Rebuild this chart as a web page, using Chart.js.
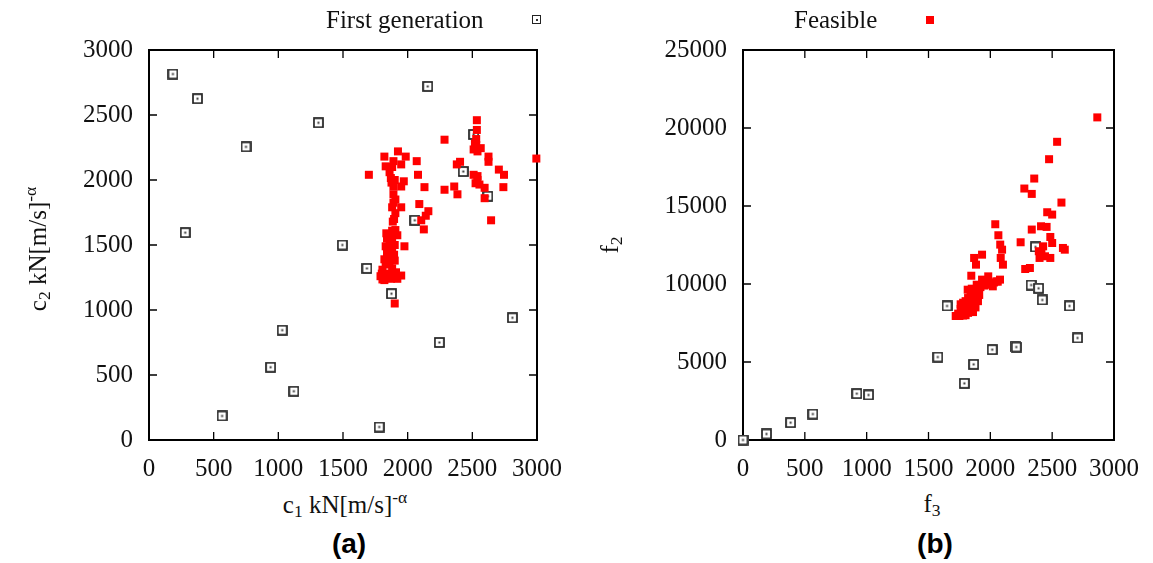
<!DOCTYPE html>
<html>
<head>
<meta charset="utf-8">
<script src="https://cdn.jsdelivr.net/npm/chart.js@4/dist/chart.umd.min.js"></script>
<style>
  html, body { margin: 0; padding: 0; background: #fff; }
  body { width: 1153px; height: 563px; position: relative; overflow: hidden; }
  .wrap { position: absolute; top: 0; }
  .txt { position: absolute; font-family: "Liberation Serif", "DejaVu Serif", serif; font-size: 25px; line-height: 30px; color: #111; white-space: nowrap; }
  .txt sub, .txt sup { font-size: 70%; line-height: 0; }
  .txt sub { vertical-align: -0.25em; }
  .txt sup { vertical-align: 0.55em; }
  .panel { position: absolute; font-family: "Liberation Sans", Arial, sans-serif; font-weight: bold; font-size: 28px; line-height: 30px; color: #000; text-align: center; width: 80px; }
  .mk-first { position: absolute; width: 7px; height: 7px; border: 1.6px solid #222; background: #fff; }
  .mk-first::after { content: ""; position: absolute; left: 2.5px; top: 2.5px; width: 2px; height: 2px; background: #333; }
  .mk-red { position: absolute; width: 8px; height: 8px; background: #ff0000; }
  .rot { transform: rotate(-90deg); transform-origin: 50% 50%; text-align: center; width: 220px; }
</style>
</head>
<body>
<div class="wrap" style="left:0;width:576px;height:480px;"><canvas id="chartA" width="576" height="480"></canvas></div>
<div class="wrap" style="left:576px;width:577px;height:480px;"><canvas id="chartB" width="577" height="480"></canvas></div>

<div class="txt" style="left:326px;top:5px;">First generation</div>
<div class="mk-first" style="left:532px;top:15px;"></div>
<div class="txt" style="left:794px;top:5px;">Feasible</div>
<div class="mk-red" style="left:926px;top:16px;"></div>

<div class="txt" style="left:235px;top:490px;width:220px;text-align:center;">c<sub>1</sub> kN[m/s]<sup>-α</sup></div>
<div class="txt rot" style="left:-72px;top:234px;">c<sub>2</sub> kN[m/s]<sup>-α</sup></div>
<div class="txt" style="left:832px;top:489px;width:200px;text-align:center;">f<sub>3</sub></div>
<div class="txt rot" style="left:500px;top:230px;">f<sub>2</sub></div>

<div class="panel" style="left:309px;top:529px;">(a)</div>
<div class="panel" style="left:895px;top:529px;">(b)</div>

<script>
// ---------- Data ----------
const axisTicksC = [0, 500, 1000, 1500, 2000, 2500, 3000];
const axisTicksF2 = [0, 5000, 10000, 15000, 20000, 25000];

// Panel (a): first generation
const firstGenC1 = [185, 375, 750, 280, 1310, 1495, 1685, 2155, 2430, 2620, 2510, 2055, 1875, 1030, 940, 1120, 565, 1780, 2245, 2810];
const firstGenC2 = [2815, 2625, 2255, 1595, 2440, 1500, 1320, 2720, 2065, 1875, 2350, 1690, 1125, 845, 560, 375, 185, 100, 750, 940];

// Panel (a): feasible
const feasibleC1 = [1700, 1820, 1830, 1890, 1925, 1985, 1950, 1870, 1875, 1890, 1970, 1950, 1905, 1890, 1950, 1905, 1885, 1905, 1835, 1870,
  1920, 1830, 1975, 1895, 1820, 1860, 1805, 1850, 1950, 1805, 1890, 1900, 1820, 1840, 1860, 1880, 1840, 1870, 1900, 1830,
  1880, 1910, 1830, 1870, 1920, 1790, 1800, 1850, 1900, 1880, 1895, 1880, 1890, 1880, 1900, 1860, 1880,
  2070, 2080, 2130, 2090, 2160, 2140, 2105, 2125, 2285, 2285, 2360, 2385, 2380, 2405, 2535, 2535, 2530, 2510, 2540, 2565,
  2510, 2540, 2525, 2555, 2595, 2595, 2625, 2625, 2705, 2745, 2740, 2645, 2995, 2530, 2520, 2540];
const feasibleC2 = [2040, 2180, 2105, 2145, 2220, 2180, 2120, 2015, 1980, 1950, 1990, 1950, 1850, 1825, 1790, 1745, 1680, 1615, 1590, 1540,
  1575, 1490, 1490, 1425, 1390, 1360, 1310, 1270, 1265, 1235, 1250, 1050, 1230, 1550, 1500, 1460, 1440, 1400, 1380, 1350,
  1320, 1290, 1280, 1240, 1240, 1260, 1280, 1450, 1500, 1560, 1700, 1610, 1890, 1790, 2000, 2060, 2100,
  2145, 2040, 1945, 1815, 1760, 1725, 1690, 1620, 2310, 1925, 1950, 1890, 2120, 2140, 2460, 2385, 2315, 2235, 2220, 2245,
  2040, 2030, 1975, 1965, 1940, 1860, 2180, 2140, 2080, 2040, 1945, 1690, 2165, 2270, 2280, 2000];

// Panel (b): first generation
const firstGenF3 = [0, 190, 385, 565, 920, 1015, 1575, 1650, 1790, 1865, 2015, 2200, 2210, 2330, 2365, 2390, 2420, 2640, 2705];
const firstGenF2 = [0, 385, 1110, 1665, 2970, 2885, 5320, 8590, 3630, 4850, 5790, 5990, 5960, 9935, 12375, 9725, 8975, 8590, 6540];

// Panel (b): feasible
const feasibleF3 = [2865, 2540, 2475, 2355, 2275, 2335, 2575, 2460, 2500, 2410, 2455, 2335, 2040, 2065, 2080, 2095, 2245, 2485, 2500, 2427,
  2392, 2587, 2602, 2398, 2442, 2485, 2413, 2282, 2320, 2084, 2102, 1933, 1869, 1884, 1846, 1983, 1933, 2049, 2078, 2020,
  1890, 1817, 1904,
  1720, 1750, 1780, 1800, 1740, 1770, 1800, 1820, 1840, 1760, 1790, 1810, 1830, 1850, 1870, 1800, 1820, 1860, 1880, 1900,
  1840, 1920, 1950, 1980, 2000, 1870, 1890, 1910, 1850, 1960, 2030, 2060, 1900, 1880, 1860, 1780, 1760];
const feasibleF2 = [20680, 19115, 18000, 16760, 16120, 15775, 15220, 14600, 14450, 13700, 13660, 13490, 13830, 13125, 12525, 12200, 12675, 13015, 12630, 12415,
  12100, 12310, 12200, 11670, 11775, 11670, 11990, 10960, 11025, 11670, 11240, 11880, 11670, 11240, 10530, 10490, 10280, 10170, 10280, 9850,
  9955, 9635, 9315,
  7950, 7950, 7980, 8000, 8100, 8200, 8300, 8150, 8400, 8400, 8600, 8700, 8550, 8800, 9000, 8900, 9100, 9250, 9400, 9600,
  9500, 9800, 9900, 10000, 9950, 8700, 9100, 9300, 9700, 10050, 10100, 10150, 8900, 8500, 8200, 8800, 8700];

// ---------- helpers ----------
function pairs(xs, ys) { return xs.map((x, i) => ({ x: x, y: ys[i] })); }

function makeFirstMarker() {
  const c = document.createElement('canvas');
  c.width = 11; c.height = 11;
  const g = c.getContext('2d');
  g.fillStyle = '#fff';
  g.fillRect(0, 0, 11, 11);
  g.strokeStyle = '#222';
  g.lineWidth = 1.7;
  g.strokeRect(1, 1, 9, 9);
  g.fillStyle = '#333';
  g.fillRect(4.5, 4.5, 2, 2);
  return c;
}

const frameTicks = {
  id: 'frameTicks',
  beforeDatasetsDraw(chart) {
    const { ctx, chartArea: a, scales } = chart;
    ctx.save();
    ctx.strokeStyle = '#000';
    ctx.lineWidth = 2;
    ctx.strokeRect(a.left, a.top, a.right - a.left, a.bottom - a.top);
    ctx.lineWidth = 1.3;
    const L = 8;
    ctx.beginPath();
    scales.x.ticks.forEach(t => {
      const px = scales.x.getPixelForValue(t.value);
      ctx.moveTo(px, a.bottom); ctx.lineTo(px, a.bottom - L);
      ctx.moveTo(px, a.top); ctx.lineTo(px, a.top + L);
    });
    scales.y.ticks.forEach(t => {
      const py = scales.y.getPixelForValue(t.value);
      ctx.moveTo(a.left, py); ctx.lineTo(a.left + L, py);
      ctx.moveTo(a.right, py); ctx.lineTo(a.right - L, py);
    });
    ctx.stroke();
    ctx.restore();
  }
};

function makeChart(id, firstMarker, firstData, feasData, xTicks, yTicks, yWidth) {
  const plain = v => String(v);
  const tickFont = { family: 'Liberation Serif', size: 25 };
  return new Chart(document.getElementById(id), {
    type: 'scatter',
    data: {
      datasets: [
        { label: 'Feasible', data: feasData, order: 0, pointStyle: 'rect', pointRadius: 5.66, pointHoverRadius: 5.66,
          backgroundColor: '#ff0000', borderColor: '#ff0000', borderWidth: 0, clip: false },
        { label: 'First generation', data: firstData, order: 1, pointStyle: firstMarker, pointRadius: 5, pointHoverRadius: 5,
          backgroundColor: '#fff', borderColor: '#222', clip: false }
      ]
    },
    options: {
      responsive: false,
      animation: false,
      events: [],
      layout: { padding: { top: 50, right: 35, bottom: 0, left: 0 } },
      plugins: { legend: { display: false }, tooltip: { enabled: false } },
      scales: {
        x: {
          type: 'linear', min: xTicks[0], max: xTicks[xTicks.length - 1],
          afterBuildTicks: s => { s.ticks = xTicks.map(v => ({ value: v })); },
          ticks: { font: tickFont, color: '#111', padding: 14, maxRotation: 0, autoSkip: false, callback: plain },
          grid: { display: false, drawTicks: false },
          border: { display: false },
          afterFit: s => { s.height = 40; }
        },
        y: {
          type: 'linear', min: yTicks[0], max: yTicks[yTicks.length - 1],
          afterBuildTicks: s => { s.ticks = yTicks.map(v => ({ value: v })); },
          ticks: { font: tickFont, color: '#111', padding: 16, autoSkip: false, callback: plain },
          grid: { display: false, drawTicks: false },
          border: { display: false },
          afterFit: s => { s.width = yWidth; }
        }
      }
    },
    plugins: [frameTicks]
  });
}

const marker = makeFirstMarker();
makeChart('chartA', marker, pairs(firstGenC1, firstGenC2), pairs(feasibleC1, feasibleC2), axisTicksC, axisTicksC, 149);
makeChart('chartB', marker, pairs(firstGenF3, firstGenF2), pairs(feasibleF3, feasibleF2), axisTicksC, axisTicksF2, 167);
</script>
</body>
</html>
